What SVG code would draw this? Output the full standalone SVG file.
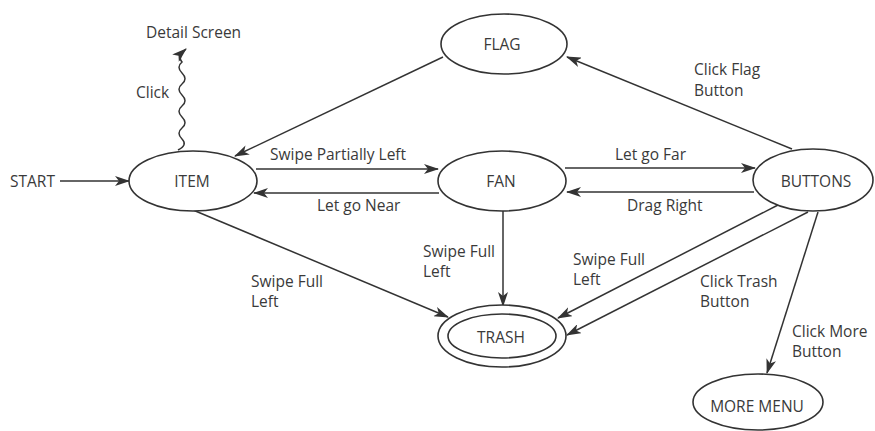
<svg xmlns="http://www.w3.org/2000/svg" width="875" height="431" viewBox="0 0 875 431">
  <style>
    .node ellipse { fill: #ffffff; stroke: #333333; stroke-width: 1.6; }
    .node text { font-family: "Open Sans", "Liberation Sans", sans-serif; font-size: 15.5px; fill: #3a3a3a; text-anchor: middle; }
    .lbl { font-family: "Open Sans", "Liberation Sans", sans-serif; font-size: 15.5px; fill: #3a3a3a; }
    .edge { fill: none; stroke: #333333; stroke-width: 1.5; marker-end: url(#arrow); }
  </style>
  <defs>
    <marker id="arrow" markerUnits="userSpaceOnUse" markerWidth="15" markerHeight="10" refX="14" refY="5" orient="auto">
      <path d="M0,0 L15,5 L0,10 L4,5 Z" fill="#333333"/>
    </marker>
  </defs>
  <rect width="875" height="431" fill="#ffffff"/>

  <!-- transitions -->
  <g id="connectors">
    <line class="edge" x1="60" y1="181" x2="129" y2="181"/>
    <line class="edge" x1="256" y1="169" x2="438" y2="169"/>
    <line class="edge" x1="439" y1="193" x2="254" y2="193"/>
    <line class="edge" x1="443" y1="57" x2="235" y2="156"/>
    <line class="edge" x1="792" y1="149" x2="567" y2="57"/>
    <line class="edge" x1="565" y1="168" x2="755" y2="168"/>
    <line class="edge" x1="754" y1="192" x2="567" y2="192"/>
    <line class="edge" x1="503" y1="211" x2="503" y2="306"/>
    <line class="edge" x1="193" y1="210" x2="448" y2="317"/>
    <line class="edge" x1="778" y1="205" x2="558" y2="318"/>
    <line class="edge" x1="808" y1="212" x2="567" y2="335"/>
    <line class="edge" x1="818" y1="212" x2="767" y2="373"/>
    <!-- wavy click transition to the detail screen -->
    <path class="edge" d="M178,150 Q188,145 182,139 T182,128 T182,117 T182,106 T182,95 T182,84 T182,73 T182,62 Q177,57 186,49"/>
  </g>

  <!-- transition labels -->
  <g id="labels">
    <text class="lbl" x="10" y="187">START</text>
    <text class="lbl" x="146" y="38">Detail Screen</text>
    <text class="lbl" x="136" y="98">Click</text>
    <text class="lbl" x="270" y="160">Swipe Partially Left</text>
    <text class="lbl" x="317" y="211">Let go Near</text>
    <text class="lbl" x="615" y="160">Let go Far</text>
    <text class="lbl" x="627" y="211">Drag Right</text>
    <text class="lbl" x="694" y="75">Click Flag</text>
    <text class="lbl" x="694" y="96">Button</text>
    <text class="lbl" x="423" y="257">Swipe Full</text>
    <text class="lbl" x="423" y="277">Left</text>
    <text class="lbl" x="251" y="287">Swipe Full</text>
    <text class="lbl" x="251" y="307">Left</text>
    <text class="lbl" x="573" y="265">Swipe Full</text>
    <text class="lbl" x="573" y="285">Left</text>
    <text class="lbl" x="700" y="287">Click Trash</text>
    <text class="lbl" x="700" y="307">Button</text>
    <text class="lbl" x="792" y="337">Click More</text>
    <text class="lbl" x="792" y="357">Button</text>
  </g>

  <g id="item" class="node">
    <ellipse cx="193" cy="181" rx="64" ry="30"/>
    <text x="192" y="187">ITEM</text>
  </g>
  <g id="flag" class="node">
    <ellipse cx="504" cy="44" rx="63" ry="30"/>
    <text x="502" y="50">FLAG</text>
  </g>
  <g id="fan" class="node">
    <ellipse cx="502" cy="181" rx="64" ry="30"/>
    <text x="501" y="187">FAN</text>
  </g>
  <g id="buttons" class="node">
    <ellipse cx="813" cy="180" rx="60" ry="31"/>
    <text x="816" y="187">BUTTONS</text>
  </g>
  <g id="trash" class="node">
    <ellipse cx="502" cy="336" rx="64" ry="31"/>
    <ellipse cx="502" cy="336" rx="54" ry="22"/>
    <text x="501" y="343">TRASH</text>
  </g>
  <g id="more-menu" class="node">
    <ellipse cx="758" cy="402" rx="65" ry="28"/>
    <text x="757" y="412">MORE MENU</text>
  </g>
</svg>
